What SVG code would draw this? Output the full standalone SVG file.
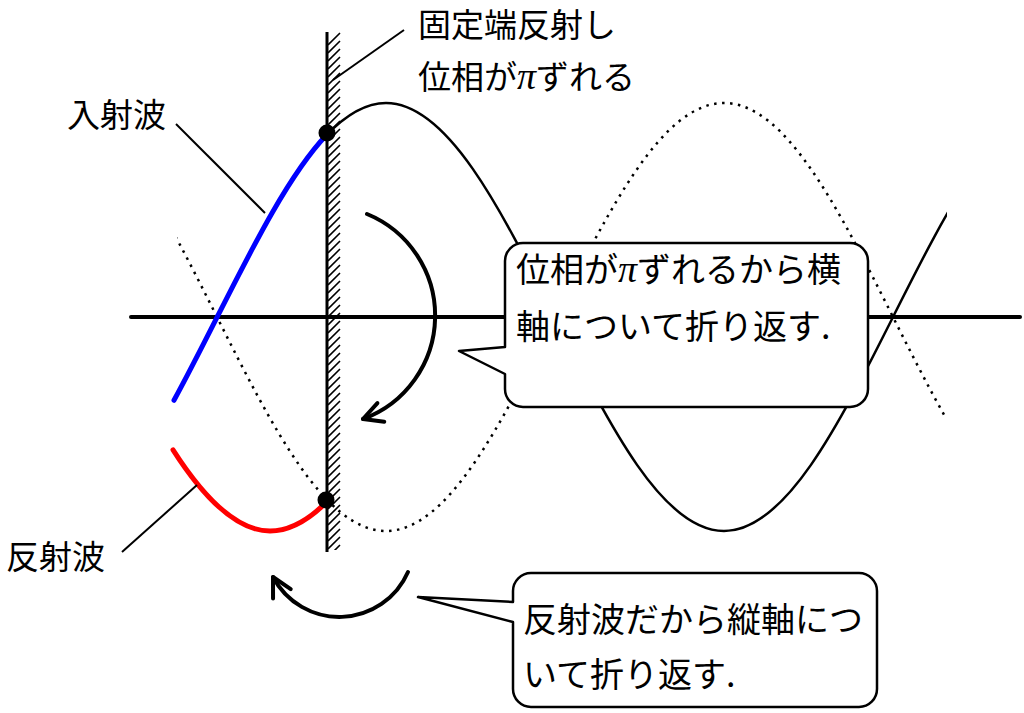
<svg xmlns="http://www.w3.org/2000/svg" width="1024" height="713" viewBox="0 0 1024 713">
<style>
.jp{font-family:"Noto Sans CJK JP","Noto Sans CJK SC",sans-serif;font-size:33px;fill:#000}
.big{font-size:34px}
.pi{font-family:"Liberation Serif",serif;font-style:italic;font-size:38px}
.lead{stroke:#000;stroke-width:2;fill:none}
.arc{stroke:#000;stroke-width:4;fill:none;stroke-linecap:round}
.box{fill:#fff;stroke:#000;stroke-width:2.5;stroke-linejoin:round}
.solid{stroke:#000;stroke-width:2.5;fill:none}
.dotted{stroke:#000;stroke-width:2.5;fill:none;stroke-dasharray:2.5 5.5}
.wave{fill:none;stroke-width:5;stroke-linecap:round}
</style>
<defs>
<marker id="head" markerUnits="userSpaceOnUse" orient="auto" overflow="visible" markerWidth="40" markerHeight="40" refX="0" refY="0">
<path d="M-19,-10 L0,0 L-19,10" fill="none" stroke="#000" stroke-width="4" stroke-linecap="round" stroke-linejoin="round"/>
</marker>
<clipPath id="cSolid"><rect x="326" y="0" width="621" height="713"/></clipPath>
<clipPath id="cDot"><rect x="177" y="0" width="768" height="713"/></clipPath>
<clipPath id="cHatch"><rect x="328" y="32" width="14" height="518"/></clipPath>
</defs>
<rect width="1024" height="713" fill="#fff"/>

<g id="dotted-wave" clip-path="url(#cDot)">
<path class="dotted" d="M48,103 C109.2,103 161.9,207.4 217,317 C272.1,426.6 324.8,531 386,531 C447.2,531 499.9,426.6 555,317 C610.1,207.4 662.8,103 724,103 C785.2,103 837.9,207.4 893,317 C948.1,426.6 1000.8,531 1062,531"/>
</g>
<g id="solid-wave" clip-path="url(#cSolid)">
<path class="solid" d="M48,531 C109.2,531 161.9,426.6 217,317 C272.1,207.4 324.8,103 386,103 C447.2,103 499.9,207.4 555,317 C610.1,426.6 662.8,531 724,531 C785.2,531 837.9,426.6 893,317 C948.1,207.4 1000.8,103 1062,103"/>
</g>
<g id="axis">
<line x1="131" y1="317" x2="1020" y2="317" stroke="#000" stroke-width="4" stroke-linecap="round"/>
</g>
<g id="wall">
<path clip-path="url(#cHatch)" stroke="#000" stroke-width="1.6" fill="none" d="M328,45l12,-12M328,53l12,-12M328,61l12,-12M328,69l12,-12M328,77l12,-12M328,85l12,-12M328,93l12,-12M328,101l12,-12M328,109l12,-12M328,117l12,-12M328,125l12,-12M328,133l12,-12M328,141l12,-12M328,149l12,-12M328,157l12,-12M328,165l12,-12M328,173l12,-12M328,181l12,-12M328,189l12,-12M328,197l12,-12M328,205l12,-12M328,213l12,-12M328,221l12,-12M328,229l12,-12M328,237l12,-12M328,245l12,-12M328,253l12,-12M328,261l12,-12M328,269l12,-12M328,277l12,-12M328,285l12,-12M328,293l12,-12M328,301l12,-12M328,309l12,-12M328,317l12,-12M328,325l12,-12M328,333l12,-12M328,341l12,-12M328,349l12,-12M328,357l12,-12M328,365l12,-12M328,373l12,-12M328,381l12,-12M328,389l12,-12M328,397l12,-12M328,405l12,-12M328,413l12,-12M328,421l12,-12M328,429l12,-12M328,437l12,-12M328,445l12,-12M328,453l12,-12M328,461l12,-12M328,469l12,-12M328,477l12,-12M328,485l12,-12M328,493l12,-12M328,501l12,-12M328,509l12,-12M328,517l12,-12M328,525l12,-12M328,533l12,-12M328,541l12,-12M328,549l12,-12M328,557l12,-12"/>
<line x1="327" y1="32" x2="327" y2="552" stroke="#000" stroke-width="3"/>
</g>
<g id="incident-wave">
<path class="wave" stroke="#0000ff" d="M174,400.3 C225,306.9 276,187.3 327,134.5"/>
</g>
<g id="reflected-wave">
<path class="wave" stroke="#ff0000" d="M173,449.8 C205.3,500.2 237.7,531 270,531 C290.3,531 310.7,519.2 331,497.5"/>
</g>
<g id="points">
<circle cx="327" cy="133" r="8.5" fill="#000"/>
<circle cx="326" cy="500" r="8.5" fill="#000"/>
</g>

<g id="connectors">
<line class="lead" x1="404" y1="30" x2="333" y2="80"/>
<line class="lead" x1="176" y1="124" x2="265" y2="213"/>
<line class="lead" x1="122" y1="552" x2="197" y2="485"/>
<path class="arc" d="M367,214 A110,110 0 0 1 363,419" marker-end="url(#head)"/>
<path class="arc" d="M408,572 A75,75 0 0 1 273,577" marker-end="url(#head)"/>
</g>

<g id="label-wall">
<text class="jp" x="418" y="37">固定端反射し</text>
<text class="jp" x="418" y="89">位相が<tspan class="pi">π</tspan>ずれる</text>
</g>
<g id="label-incident">
<text class="jp" x="67" y="127">入射波</text>
</g>
<g id="label-reflected">
<text class="jp" x="6" y="569">反射波</text>
</g>

<g id="callout1">
<path class="box" d="M523,243 H850 A18,18 0 0 1 868,261 V389 A18,18 0 0 1 850,407 H523 A18,18 0 0 1 505,389 V374 L459,351 L505,347 V261 A18,18 0 0 1 523,243 Z"/>
<text class="jp big" x="516" y="282">位相が<tspan class="pi">π</tspan>ずれるから横</text>
<text class="jp big" x="516" y="339">軸について折り返す.</text>
</g>
<g id="callout2">
<path class="box" d="M531,573 H859 A18,18 0 0 1 877,591 V689 A18,18 0 0 1 859,707 H531 A18,18 0 0 1 513,689 V622 L418,597 L513,602 V591 A18,18 0 0 1 531,573 Z"/>
<text class="jp big" x="523" y="632">反射波だから縦軸につ</text>
<text class="jp big" x="523" y="687">いて折り返す.</text>
</g>
</svg>
